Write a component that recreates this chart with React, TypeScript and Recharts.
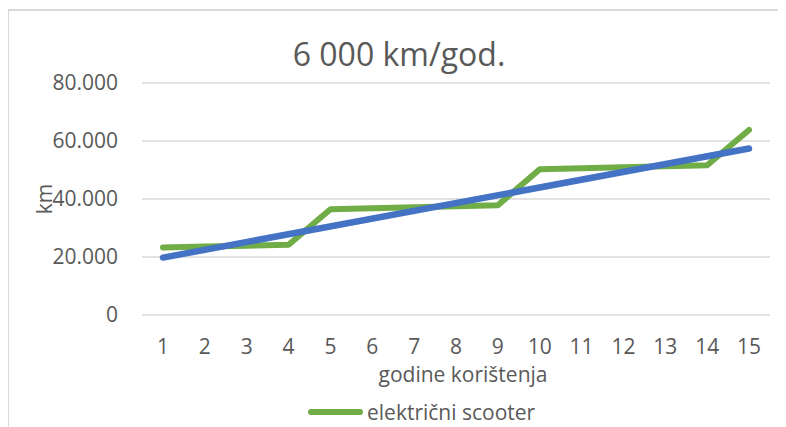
import { LineChart, Line, XAxis, YAxis, CartesianGrid } from "recharts";

const years = ["1", "2", "3", "4", "5", "6", "7", "8", "9", "10", "11", "12", "13", "14", "15"];

// električni scooter, km
const scooter = [
  23300, 23600, 23900, 24200, 36450, 36800, 37150, 37500, 37850, 50250, 50600, 50950, 51300, 51650, 63800,
];

// linear trend, only its end points
const trend = [19800, null, null, null, null, null, null, null, null, null, null, null, null, null, 57400];

const yTicks = [0, 20000, 40000, 60000, 80000];

const data = years.map((y, i) => ({ year: y, scooter: scooter[i], trend: trend[i] }));

const FONT = "'Open Sans', sans-serif";
const TEXT = "#595959";
const GREEN = "#70AD47";
const BLUE = "#4472C4";

const fmt = (v: number) => (v === 0 ? "0" : `${v / 1000}.000`);

export default function App() {
  return (
    <div style={{ position: "relative", width: 778, height: 419 }}>
      <div
        style={{
          position: "absolute",
          left: -1,
          top: 1,
          width: 779,
          height: 418,
          borderTop: "2px solid #D9D9D9",
          borderLeft: "2px solid #D9D9D9",
          boxSizing: "border-box",
        }}
      />
      <svg width={778} height={80} style={{ position: "absolute", left: 0, top: 0 }}>
        <text x={391} y={58} textAnchor="middle" fontFamily={FONT} fontSize={32} fill={TEXT}>
          6 000 km/god.
        </text>
      </svg>
      <LineChart
        width={778}
        height={419}
        data={data}
        margin={{ top: 75, right: 16, bottom: 82, left: 0 }}
        style={{ position: "absolute", left: 0, top: 0 }}
      >
        <CartesianGrid vertical={false} stroke="#D9D9D9" strokeWidth={1.5} />
        <XAxis
          dataKey="year"
          height={30}
          axisLine={false}
          tickLine={false}
          tickSize={0}
          tickMargin={24}
          padding={{ left: 21, right: 21 }}
          interval={0}
          tick={{ fontFamily: FONT, fontSize: 21, fill: TEXT }}
          label={({ viewBox }: any) => (
            <text
              x={viewBox.x + viewBox.width / 2 + 7}
              y={374}
              textAnchor="middle"
              fontFamily={FONT}
              fontSize={21}
              fill={TEXT}
            >
              godine korištenja
            </text>
          )}
        />
        <YAxis
          width={134}
          domain={[0, 80000]}
          ticks={yTicks}
          axisLine={false}
          tickLine={false}
          tickSize={0}
          tickMargin={24}
          tickFormatter={fmt}
          tick={{ fontFamily: FONT, fontSize: 21, fill: TEXT }}
          label={({ viewBox }: any) => (
            <text
              x={36}
              y={viewBox.y + viewBox.height / 2}
              transform={`rotate(-90 36 ${viewBox.y + viewBox.height / 2})`}
              textAnchor="middle"
              dominantBaseline="central"
              fontFamily={FONT}
              fontSize={21}
              fill={TEXT}
            >
              km
            </text>
          )}
        />
        <Line
          type="linear"
          dataKey="scooter"
          name="električni scooter"
          stroke={GREEN}
          strokeWidth={6}
          strokeLinecap="round"
          strokeLinejoin="round"
          dot={false}
          activeDot={false}
          isAnimationActive={false}
        />
        <Line
          type="linear"
          dataKey="trend"
          legendType="none"
          stroke={BLUE}
          strokeWidth={6.5}
          strokeLinecap="round"
          dot={false}
          activeDot={false}
          connectNulls
          isAnimationActive={false}
        />
      </LineChart>
      <div
        style={{
          position: "absolute",
          left: 300,
          top: 392,
          display: "flex",
          alignItems: "center",
          fontFamily: FONT,
          fontSize: 21,
          color: TEXT,
          lineHeight: "24px",
        }}
      >
        <span style={{ display: "inline-block", width: 55, height: 6, borderRadius: 3, background: GREEN, marginRight: 4 }} />
        <span>električni scooter</span>
      </div>
    </div>
  );
}
